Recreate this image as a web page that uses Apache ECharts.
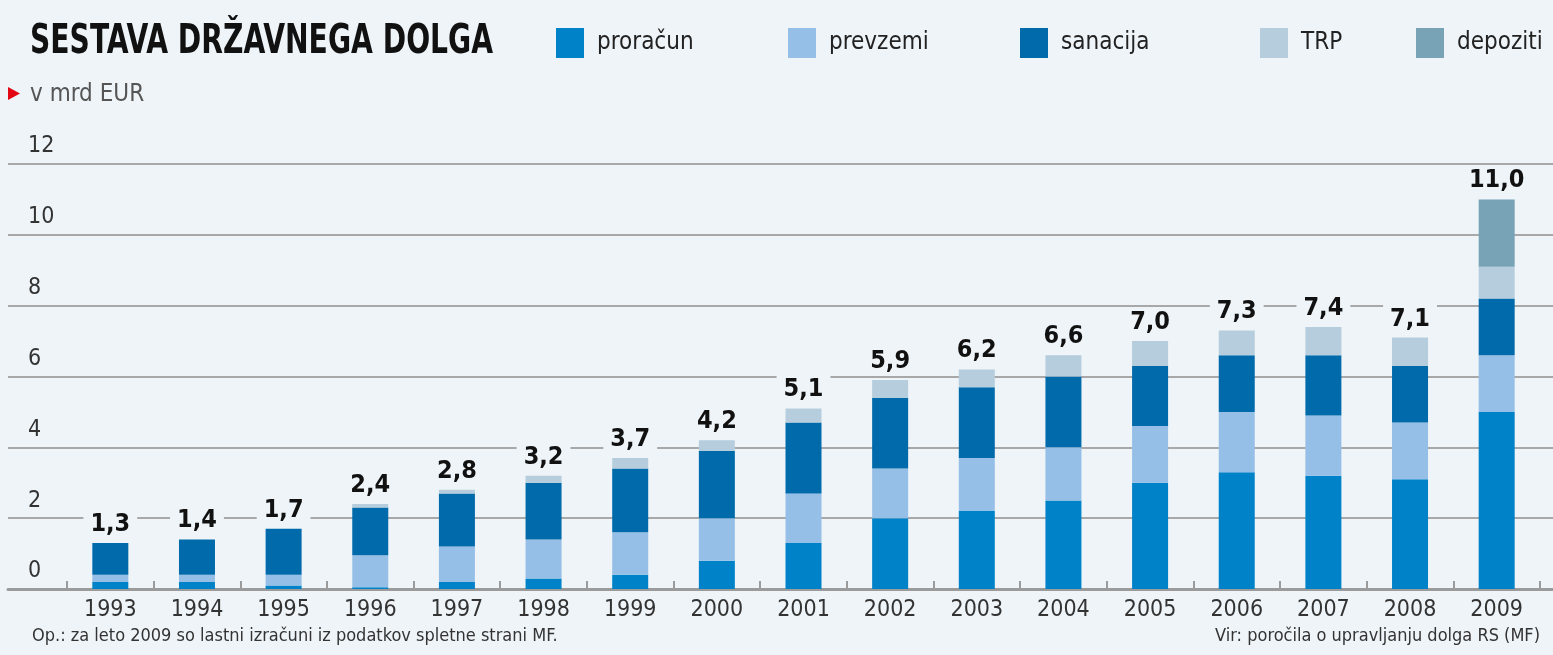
<!DOCTYPE html>
<html>
<head>
<meta charset="utf-8">
<title>Sestava državnega dolga</title>
<script src="https://cdn.jsdelivr.net/npm/echarts@6/dist/echarts.min.js"></script>
<style>
  html, body { margin: 0; padding: 0; background: #eef4f8; }
  #chart { width: 1553px; height: 655px; }
</style>
</head>
<body>
<div id="chart"></div>
<script>
  // podatki (v mrd EUR)
  var years = ['1993', '1994', '1995', '1996', '1997', '1998', '1999', '2000', '2001',
               '2002', '2003', '2004', '2005', '2006', '2007', '2008', '2009'];
  var proracun = [0.2, 0.2, 0.1, 0.05, 0.2, 0.3, 0.4, 0.8, 1.3, 2.0, 2.2, 2.5, 3.0, 3.3, 3.2, 3.1, 5.0];
  var prevzemi = [0.2, 0.2, 0.3, 0.9, 1.0, 1.1, 1.2, 1.2, 1.4, 1.4, 1.5, 1.5, 1.6, 1.7, 1.7, 1.6, 1.6];
  var sanacija = [0.9, 1.0, 1.3, 1.35, 1.5, 1.6, 1.8, 1.9, 2.0, 2.0, 2.0, 2.0, 1.7, 1.6, 1.7, 1.6, 1.6];
  var trp      = [0, 0, 0, 0.1, 0.1, 0.2, 0.3, 0.3, 0.4, 0.5, 0.5, 0.6, 0.7, 0.7, 0.8, 0.8, 0.9];
  var depoziti = [0, 0, 0, 0, 0, 0, 0, 0, 0, 0, 0, 0, 0, 0, 0, 0, 1.9];
  var yTicks = [0, 2, 4, 6, 8, 10, 12];

  var seriesNames = ['proračun', 'prevzemi', 'sanacija', 'TRP', 'depoziti'];
  var seriesData = [proracun, prevzemi, sanacija, trp, depoziti];
  var colors = ['#0082c9', '#95bfe6', '#006aab', '#b5cddc', '#78a2b5'];
  var legendLeft = [551, 783, 1015, 1255, 1411];

  var bg = '#eef4f8';
  var font = '"DejaVu Sans Condensed", "DejaVu Sans", sans-serif';

  // skupni dolg za oznake nad stolpci
  var totals = years.map(function (y, i) {
    var s = 0;
    seriesData.forEach(function (arr) { s += arr[i]; });
    return s;
  });

  var chart = echarts.init(document.getElementById('chart'));

  var series = seriesNames.map(function (name, k) {
    var s = {
      name: name,
      type: 'bar',
      stack: 'dolg',
      xAxisIndex: 1,
      yAxisIndex: 1,
      barWidth: 36,
      data: seriesData[k],
      itemStyle: { color: colors[k] }
    };
    if (k === seriesNames.length - 1) {
      s.label = {
        show: true,
        position: 'top',
        distance: 6,
        fontFamily: font,
        fontWeight: 'bold',
        fontSize: 25,
        color: '#111',
        backgroundColor: bg,
        padding: [2, 7, 0, 7],
        formatter: function (p) {
          return totals[p.dataIndex].toFixed(1).replace('.', ',');
        }
      };
    }
    return s;
  });

  var legends = seriesNames.map(function (name, k) {
    return {
      data: [name],
      left: legendLeft[k],
      top: 23,
      icon: 'rect',
      itemWidth: 28,
      itemHeight: 30,
      selectedMode: false,
      textStyle: { fontFamily: font, fontSize: 24, color: '#222', padding: [0, 0, 0, 8] }
    };
  });

  var option = {
    backgroundColor: bg,
    animation: false,
    color: colors,
    legend: legends,
    graphic: [
      {
        type: 'text', x: 30, y: 22, scaleX: 0.765,
        style: { text: 'SESTAVA DRŽAVNEGA DOLGA', fontFamily: font, fontWeight: 'bold',
                 fontSize: 41, fill: '#111' }
      },
      { type: 'polygon', shape: { points: [[8, 87], [20, 93.5], [8, 100]] }, style: { fill: '#e30613' } },
      {
        type: 'text', x: 30, y: 83,
        style: { text: 'v mrd EUR', fontFamily: font, fontSize: 24, fill: '#555' }
      },
      {
        type: 'text', x: 32, y: 627,
        style: { text: 'Op.: za leto 2009 so lastni izračuni iz podatkov spletne strani MF.',
                 fontFamily: font, fontSize: 18, fill: '#333' }
      },
      {
        type: 'text', x: 1540, y: 627,
        style: { text: 'Vir: poročila o upravljanju dolga RS (MF)', align: 'right',
                 fontFamily: font, fontSize: 18, fill: '#333' }
      }
    ],
    grid: [
      { left: 8, right: 0, top: 164, bottom: 66 },
      { left: 67, right: 13, top: 164, bottom: 66 }
    ],
    xAxis: [
      {
        type: 'value', gridIndex: 0, min: 0, max: 1,
        axisLine: { show: true, lineStyle: { color: '#9b9b9b', width: 3 } },
        axisTick: { show: false },
        axisLabel: { show: false },
        splitLine: { show: false }
      },
      {
        type: 'category', gridIndex: 1, data: years,
        axisLine: { show: false },
        axisTick: { show: true, inside: true, length: 8, lineStyle: { color: '#9b9b9b', width: 2 } },
        axisLabel: { fontFamily: font, fontSize: 23, color: '#333', margin: 10 }
      }
    ],
    yAxis: [
      {
        type: 'value', gridIndex: 0, min: yTicks[0], max: yTicks[yTicks.length - 1], interval: 2,
        axisLine: { show: false },
        axisTick: { show: false },
        axisLabel: {
          inside: true, margin: 20, verticalAlign: 'bottom', padding: [0, 0, 6, 0],
          fontFamily: font, fontSize: 23, color: '#333'
        },
        splitLine: { lineStyle: { color: '#a8a8a8', width: 2 } }
      },
      {
        type: 'value', gridIndex: 1, min: yTicks[0], max: yTicks[yTicks.length - 1],
        show: false, splitLine: { show: false }
      }
    ],
    series: series
  };

  chart.setOption(option);
  window.addEventListener('resize', function () {
    chart.resize();
  });
</script>
</body>
</html>
